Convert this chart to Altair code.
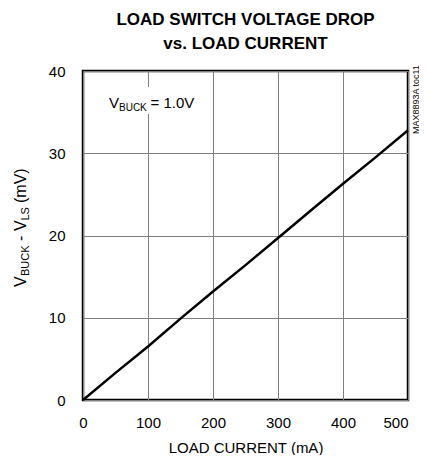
import altair as alt
import pandas as pd

# data
load_current_ma = [0, 50, 100, 150, 200, 250, 300, 350, 400, 450, 500]
drop_mv = [0, 3.3, 6.5, 9.9, 13.2, 16.4, 19.7, 23.0, 26.3, 29.5, 32.8]
x_ticks = [0, 100, 200, 300, 400, 500]
y_ticks = [0, 10, 20, 30, 40]

title_lines = ["LOAD SWITCH VOLTAGE DROP", "vs. LOAD CURRENT"]
x_title = "LOAD CURRENT (mA)"
watermark = "MAX8893A toc11"

FONT = "Liberation Sans"
W, H = 325, 329

df = pd.DataFrame({"i": load_current_ma, "v": drop_mv})

xs = alt.Scale(domain=[0, 500], nice=False)
ys = alt.Scale(domain=[0, 40], nice=False)

line = alt.Chart(df).mark_line(color="black", strokeWidth=2.5).encode(
    x=alt.X("i:Q", scale=xs, title=x_title,
            axis=alt.Axis(values=x_ticks, grid=True, gridColor="#808080", gridWidth=1,
                          ticks=False, domain=False, labelFontSize=15, labelFont=FONT,
                          labelColor="black", labelPadding=15, labelFlush=False,
                          labelAlign={"condition": {"test": "datum.value === 500", "value": "right"}, "value": "center"},
                          titleFont=FONT, titleFontSize=15, titleFontWeight="normal",
                          titleColor="black", titlePadding=10)),
    y=alt.Y("v:Q", scale=ys, title=None,
            axis=alt.Axis(values=y_ticks, grid=True, gridColor="#808080", gridWidth=1,
                          ticks=False, domain=False, labelFontSize=15, labelFont=FONT,
                          labelColor="black", labelPadding=18)),
)

# white box behind the annotation (hides grid line)
box = alt.Chart(df.head(1)).mark_rect(color="white").encode(
    x=alt.value(23), x2=alt.value(116), y=alt.value(16), y2=alt.value(43)
)

def txt(s, x, y, size, angle=0, align="left"):
    return alt.Chart(pd.DataFrame({"t": [s]})).mark_text(
        font=FONT, fontSize=size, color="black", align=align, baseline="alphabetic",
        angle=angle
    ).encode(text="t:N", x=alt.value(x), y=alt.value(y))

ann = [
    txt("V", 26, 37, 15),
    txt("BUCK", 36, 40, 10),
    txt("= 1.0V", 67.5, 37, 15),
]

# rotated y-axis title with subscripts (page coords -> plot coords)
ox, oy = 83, 71
ytitle = [
    txt("V", 26 - ox, 287 - oy, 16, angle=270),
    txt("BUCK", 29 - ox, 276 - oy, 11, angle=270),
    txt("-", 26 - ox, 241 - oy, 16, angle=270),
    txt("V", 26 - ox, 231 - oy, 16, angle=270),
    txt("LS", 29 - ox, 220.5 - oy, 11, angle=270),
    txt("(mV)", 26 - ox, 203 - oy, 16, angle=270),
]

wm = txt(watermark, 418.5 - ox, 134 - oy, 9, angle=270)

chart = alt.layer(line, box, *ann, *ytitle, wm).properties(
    width=W, height=H,
    title=alt.Title(title_lines, font=FONT, fontSize=17, fontWeight="bold",
                    color="black", anchor="middle", lineHeight=24, offset=11),
    autosize=alt.AutoSizeParams(type="none"),
    padding={"left": 75, "top": 63, "right": 11, "bottom": 55},
).configure_view(stroke="black", strokeWidth=2.5)

chart.save("out.html", embed_options={"renderer": "svg", "actions": False})
